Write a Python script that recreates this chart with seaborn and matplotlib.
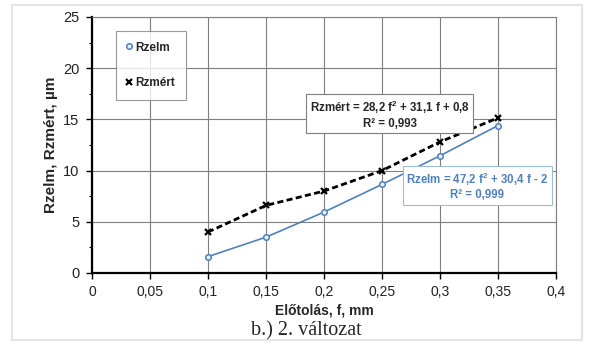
import matplotlib
matplotlib.use("Agg")
import matplotlib.pyplot as plt
import matplotlib.ticker as mticker
from matplotlib.patches import Rectangle
import seaborn as sns
import pandas as pd

f_vals = [0.10, 0.15, 0.20, 0.25, 0.30, 0.35]
rzelm = [1.6, 3.5, 5.95, 8.65, 11.45, 14.4]
rzmert = [4.0, 6.6, 8.0, 10.0, 12.8, 15.15]
x_ticks = [0, 0.05, 0.1, 0.15, 0.2, 0.25, 0.3, 0.35, 0.4]
y_ticks = [0, 5, 10, 15, 20, 25]
eq_mert = "Rzmért = 28,2 f$^2$ + 31,1 f + 0,8\nR² = 0,993"
eq_elm = "Rzelm = 47,2 f$^2$ + 30,4 f - 2\nR² = 0,999"

sns.set_theme(style="white")
plt.rcParams['font.family'] = ['Liberation Sans', 'DejaVu Sans']
plt.rcParams['mathtext.fontset'] = 'custom'
plt.rcParams['mathtext.rm'] = 'Liberation Sans:bold'

df = pd.DataFrame({"f": f_vals, "Rzelm": rzelm, "Rzmert": rzmert})

fig = plt.figure(figsize=(5.95, 3.45), dpi=100)
fig.patch.set_facecolor("white")
fig.patches.append(Rectangle((12/595, 5/345), 570/595, 335/345, transform=fig.transFigure,
                             fill=False, edgecolor="#e4e4e4", linewidth=1.5))
ax = fig.add_axes([92/595, 72/345, 464/595, 256/345])

blue = "#4f81bd"
sns.lineplot(data=df, x="f", y="Rzelm", ax=ax, color=blue, linewidth=1.2,
             marker="o", markersize=4, markerfacecolor="#e8eef7", markeredgecolor=blue,
             markeredgewidth=1.1, label="Rzelm", legend=False)
sns.lineplot(data=df, x="f", y="Rzmert", ax=ax, color="black", linewidth=2.0,
             linestyle=(0, (2.2, 1.2)), marker="x", markersize=5, markeredgewidth=1.6,
             markeredgecolor="black", markerfacecolor="black",
             label="Rzmért", legend=False)

ax.set_xlim(0, 0.4)
ax.set_ylim(0, 25)
ax.set_xticks(x_ticks)
ax.set_yticks(y_ticks)
ax.set_xticklabels([("%g" % v).replace(".", ",") for v in x_ticks], fontsize=10, color="#222222")
ax.set_yticklabels([str(v) for v in y_ticks], fontsize=10.5, color="#222222")
ax.yaxis.set_minor_locator(mticker.MultipleLocator(2.5))
ax.tick_params(axis="both", which="major", direction="out", length=4, width=1, color="black", pad=5, bottom=True, left=True)
ax.tick_params(axis="y", which="minor", direction="out", length=2.5, width=0.8, color="black", left=True)
ax.grid(True, which="major", color="#7f7f7f", linewidth=0.8)
for s in ["left", "bottom"]:
    ax.spines[s].set_color("black")
    ax.spines[s].set_linewidth(1.6)
for s in ["top", "right"]:
    ax.spines[s].set_color("#7f7f7f")
    ax.spines[s].set_linewidth(0.8)

ax.set_xlabel("Előtolás, f, mm", fontsize=10, fontweight="bold", labelpad=3)
ax.set_ylabel("Rzelm, Rzmért, µm", fontsize=11, fontweight="bold", labelpad=4)

leg = ax.legend(loc="upper left", bbox_to_anchor=(24/464, 1 - 14/256), frameon=True,
                handlelength=0.4, handletextpad=0.35, labelspacing=2.0,
                borderpad=0.9, borderaxespad=0, fancybox=False, prop={"weight": "bold", "size": 8.5})
leg.get_frame().set_edgecolor("#7f7f7f")
leg.get_frame().set_linewidth(0.8)
for h in leg.legend_handles:
    h.set_linestyle("None")

ax.text(0.2565, 15.5, eq_mert, fontsize=8.3, fontweight="bold", ha="center", va="center",
        linespacing=1.2, bbox=dict(boxstyle="square,pad=0.3", facecolor="white", edgecolor="#7f7f7f", linewidth=0.8))
ax.text(0.3323, 8.5, eq_elm, fontsize=8.3, fontweight="bold", ha="center", va="center", color=blue,
        linespacing=1.2, bbox=dict(boxstyle="square,pad=0.3", facecolor="white", edgecolor="#9bbbd9", linewidth=0.8))

fig.text(306/595, 1 - 331/345, "b.) 2. változat", fontsize=14.5, family=["Liberation Serif", "DejaVu Serif"],
         ha="center", va="center")

fig.savefig("out.png", dpi=100, facecolor="white")
